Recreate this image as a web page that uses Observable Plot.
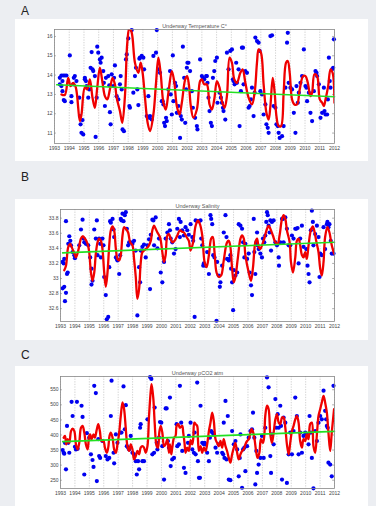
<!DOCTYPE html>
<html>
<head>
<meta charset="utf-8">
<script src="https://cdn.jsdelivr.net/npm/d3@7"></script>
<script src="https://cdn.jsdelivr.net/npm/@observablehq/plot@0.6"></script>
<style>
  html, body { margin: 0; padding: 0; }
  body { width: 376px; height: 506px; background: #eceef2; position: relative; overflow: hidden; font-family: "Liberation Sans", Arial, sans-serif; }
  .lab { position: absolute; left: 21px; font-size: 12px; color: #222; line-height: 1; }
  .panel { position: absolute; left: 15px; background: #fff; }
  .panel svg { display: block; }
</style>
</head>
<body>
<div class="lab" style="top:5px">A</div>
<div class="panel" id="pA" style="top:19px"></div>
<div class="lab" style="top:171px">B</div>
<div class="panel" id="pB" style="top:199px"></div>
<div class="lab" style="top:349px">C</div>
<div class="panel" id="pC" style="top:366px"></div>
<script>
const yearTicks = [1993,1994,1995,1996,1997,1998,1999,2000,2001,2002,2003,2004,2005,2006,2007,2008,2009,2010,2011,2012];

const titles = ["Underway Temperature C°", "Underway Salinity", "Underway pCO2 atm"];
const tempTicks = [11,12,13,14,15,16];
const salTicks = [32.6,32.8,33,33.2,33.4,33.6,33.8];
const pco2Ticks = [250,300,350,400,450,500,550];

// ---------- A: temperature ----------
const tempObs = [[1993.36,13.86],[1993.47,13.98],[1993.54,13.69],[1993.36,13.52],[1993.47,13.43],[1993.59,13.98],[1993.70,13.98],[1993.81,13.98],[1993.63,12.71],[1993.70,12.65],[1993.54,13.17],[1994.04,15.02],[1994.27,13.52],[1994.15,12.91],[1994.15,12.60],[1994.31,13.86],[1994.38,13.95],[1994.49,13.69],[1994.68,12.83],[1994.72,11.88],[1994.77,11.45],[1994.83,11.01],[1994.95,10.93],[1994.90,11.67],[1995.06,13.86],[1995.06,13.78],[1995.13,13.69],[1995.18,13.43],[1995.29,12.83],[1995.36,13.26],[1995.52,15.19],[1995.45,14.38],[1995.58,14.30],[1995.63,14.21],[1995.74,13.95],[1995.79,10.8],[1995.86,12.83],[1995.90,15.47],[1995.97,15.16],[1996.08,14.81],[1996.13,14.64],[1996.20,14.90],[1996.31,14.21],[1996.35,13.60],[1996.42,12.40],[1996.49,13.86],[1996.65,13.95],[1996.72,13.47],[1996.76,12.08],[1996.81,11.45],[1996.88,14.04],[1996.99,13.43],[1997.04,13.86],[1997.10,14.50],[1997.22,12.91],[1997.33,12.74],[1997.44,13.52],[1997.49,13.95],[1997.56,13.26],[1997.62,11.19],[1997.71,11.10],[1997.85,14.81],[1997.90,15.07],[1998.01,15.90],[1998.08,12.40],[1998.12,12.31],[1998.24,16.33],[1998.35,13.09],[1998.46,13.95],[1998.53,14.38],[1998.62,13.26],[1998.69,12.45],[1998.76,14.85],[1998.80,14.90],[1998.92,14.99],[1999.03,14.90],[1999.08,14.30],[1999.26,11.88],[1999.37,12.91],[1999.44,11.79],[1999.48,11.88],[1999.60,11.70],[1999.71,14.99],[1999.89,15.16],[1999.94,16.33],[2000.05,14.30],[2000.16,14.12],[2000.28,12.65],[2000.34,12.65],[2000.39,12.48],[2000.44,11.53],[2000.50,11.36],[2000.57,11.79],[2000.62,11.62],[2000.73,13.26],[2000.84,14.21],[2000.89,13.00],[2000.96,11.96],[2001.03,15.02],[2001.07,12.65],[2001.18,13.60],[2001.25,13.43],[2001.30,12.05],[2001.41,12.40],[2001.48,12.05],[2001.52,10.75],[2001.57,11.88],[2001.64,11.70],[2001.71,15.47],[2001.80,13.86],[2001.87,11.53],[2001.93,13.26],[2001.98,14.38],[2002.02,14.64],[2002.09,14.64],
[2002.20,14.21],[2002.32,13.17],[2002.39,12.31],[2002.54,11.79],[2002.66,11.36],[2002.70,11.19],[2002.88,14.81],[2003.00,13.95],[2003.07,13.86],[2003.16,13.78],[2003.29,13.95],[2003.34,13.95],[2003.38,13.60],[2003.45,12.83],[2003.52,12.14],[2003.61,11.53],[2003.68,11.36],[2003.75,13.86],[2003.84,14.21],[2003.91,14.73],[2004.02,14.90],[2004.06,12.57],[2004.20,13.09],[2004.29,12.83],[2004.36,12.57],[2004.43,12.31],[2004.47,12.14],[2004.59,11.70],[2004.70,15.16],[2004.81,14.30],[2004.93,15.25],[2005.04,15.33],[2005.11,13.78],[2005.15,13.69],[2005.22,13.52],[2005.33,14.64],[2005.38,13.60],[2005.49,14.30],[2005.56,11.36],[2005.65,13.17],[2005.72,15.42],[2005.79,15.42],[2005.83,13.52],[2005.95,14.21],[2006.06,14.12],[2006.17,12.31],[2006.24,12.40],[2006.33,12.74],[2006.40,13.35],[2006.51,11.88],[2006.58,13.09],[2006.63,15.94],[2006.74,15.76],[2006.85,15.68],[2006.92,15.25],[2006.97,13.17],[2007.08,13.00],[2007.19,11.96],[2007.31,12.48],[2007.38,11.45],[2007.47,11.27],[2007.53,11.01],[2007.65,16.02],[2007.76,16.06],[2007.87,12.40],[2007.99,12.31],[2008.06,11.45],[2008.15,11.36],[2008.21,11.01],[2008.28,10.75],[2008.44,10.84],[2008.55,11.36],[2008.67,13.35],[2008.78,15.68],[2008.83,16.19],[2008.89,13.60],[2009.01,13.35],[2009.12,13.26],[2009.24,12.05],[2009.35,11.01],[2009.42,13.43],[2009.51,12.57],[2009.58,13.09],[2009.69,13.60],[2009.80,13.95],[2009.92,15.33],[2010.03,13.43],[2010.10,13.35],[2010.14,12.65],[2010.26,13.09],[2010.37,12.05],[2010.48,11.62],[2010.60,13.17],[2010.71,14.21],[2010.78,14.12],[2010.82,13.95],[2010.94,13.52],[2011.05,11.79],[2011.16,12.05],[2011.28,13.35],[2011.32,12.14],[2011.39,11.96],[2011.50,11.96],[2011.55,12.74],[2011.62,14.90],[2011.68,13.69],[2011.73,13.35],[2011.84,14.30],[2011.91,14.38],[2011.96,15.85]];

const tempSmooth = [[1993.47,13.0],[1993.70,12.97],[1993.93,13.86],[1994.09,13.43],[1994.27,13.60],[1994.45,13.35],[1994.72,11.62],[1994.83,11.96],[1995.06,13.35],[1995.22,13.26],[1995.40,13.78],[1995.58,12.83],[1995.74,12.31],[1995.90,13.35],[1996.08,14.38],[1996.26,13.60],[1996.42,12.91],[1996.58,12.74],[1996.76,13.26],[1996.94,13.86],[1997.10,13.52],[1997.22,12.83],[1997.44,12.14],[1997.60,11.53],[1997.78,12.91],[1997.94,15.68],[1998.08,16.45],[1998.24,16.2],[1998.46,14.64],[1998.69,14.12],[1998.85,14.64],[1998.98,14.12],[1999.14,12.83],[1999.32,11.53],[1999.48,11.10],[1999.71,11.96],[1999.89,13.60],[2000.05,14.90],[2000.21,14.04],[2000.39,12.57],[2000.55,12.22],[2000.73,13.09],[2000.96,14.21],[2001.12,13.69],[2001.30,12.40],[2001.48,11.96],[2001.64,12.57],[2001.87,13.78],[2002.00,13.95],[2002.12,13.5],[2002.25,12.4],[2002.42,11.8],[2002.66,12.22],[2002.88,13.69],[2003.00,13.78],[2003.16,13.52],[2003.34,13.52],[2003.52,12.48],[2003.68,12.22],[2003.84,12.74],[2004.02,13.69],[2004.20,13.35],[2004.36,12.65],[2004.54,12.31],[2004.70,12.91],[2004.88,14.90],[2005.04,14.64],[2005.20,13.78],[2005.38,13.60],[2005.61,14.12],[2005.77,14.30],[2005.95,13.60],[2006.17,12.83],[2006.40,12.48],[2006.58,13.09],[2006.74,14.64],[2006.85,15.33],[2007.01,15.16],[2007.19,13.52],[2007.38,12.05],[2007.53,11.70],[2007.65,12.40],[2007.81,13.86],[2007.94,13.09],[2008.06,11.88],[2008.21,11.36],[2008.37,11.36],[2008.55,13.09],[2008.71,14.64],[2008.83,14.73],[2008.96,14.12],[2009.12,12.74],[2009.28,12.48],[2009.46,12.48],[2009.64,13.26],[2009.87,13.95],[2010.03,13.95],[2010.19,13.60],[2010.37,12.91],[2010.48,13.09],[2010.64,14.04],[2010.82,13.95],[2011.00,12.74],[2011.16,12.57],[2011.28,12.40],[2011.39,12.74],[2011.57,13.43],[2011.73,14.30],[2011.87,14.12],[2012.00,12.57]];

const tempTrend = [[1993.15,13.5],[2012,12.88]];

// ---------- B: salinity ----------
const salObs = [[1993.15,33.22],[1993.22,33.20],[1993.26,33.26],[1993.38,33.76],[1993.45,33.06],[1993.15,32.87],[1993.26,32.89],[1993.38,32.81],[1993.31,32.70],[1993.50,33.08],[1993.54,33.46],[1993.61,33.56],[1993.68,33.50],[1993.73,33.44],[1993.84,33.35],[1993.96,33.31],[1994.00,33.27],[1994.30,33.44],[1994.42,33.65],[1994.53,33.78],[1994.60,33.53],[1994.65,33.48],[1994.76,33.46],[1994.92,33.44],[1995.06,33.28],[1995.15,33.13],[1995.15,32.92],[1995.22,32.97],[1995.34,33.65],[1995.45,33.53],[1995.52,33.77],[1995.57,33.31],[1995.68,33.53],[1995.75,33.46],[1995.80,33.28],[1995.91,33.53],[1995.98,33.44],[1996.03,33.02],[1996.14,32.78],[1996.21,32.46],[1996.31,32.49],[1996.38,33.15],[1996.44,33.76],[1996.49,33.74],[1996.61,33.79],[1996.68,33.65],[1996.72,33.55],[1996.84,33.28],[1996.91,33.26],[1996.95,33.24],[1997.07,33.06],[1997.14,33.31],[1997.18,33.79],[1997.23,33.77],[1997.30,33.86],[1997.37,33.76],[1997.46,33.84],[1997.53,33.88],[1997.60,33.66],[1997.69,33.44],[1997.76,33.48],[1997.87,33.48],[1997.99,33.46],[1998.10,33.50],[1998.22,33.37],[1998.33,32.51],[1998.45,33.15],[1998.52,32.95],[1998.56,33.37],[1998.68,33.42],[1998.79,33.45],[1998.91,33.28],[1999.03,33.44],[1999.14,33.52],[1999.21,32.86],[1999.26,33.58],[1999.37,33.78],[1999.44,33.77],[1999.49,33.44],[1999.60,33.81],[1999.72,33.40],[1999.83,33.53],[1999.95,33.08],[2000.06,32.95],[2000.18,33.22],[2000.29,33.53],[2000.41,33.61],[2000.52,33.72],[2000.59,33.64],[2000.64,33.53],[2000.75,33.48],[2000.87,33.33],[2000.98,33.39],[2001.10,33.66],[2001.21,33.79],[2001.28,33.55],[2001.33,33.75],[2001.44,33.64],[2001.56,33.57],[2001.67,33.68],[2001.79,33.64],[2001.90,33.58],
[2002.02,33.72],[2002.14,33.55],[2002.20,33.50],[2002.30,32.49],[2002.37,33.77],[2002.48,33.76],[2002.60,33.76],[2002.71,33.77],[2002.76,33.53],[2002.83,33.44],[2002.90,33.17],[2002.94,33.20],[2003.06,33.17],[2003.17,33.35],[2003.29,33.06],[2003.40,33.84],[2003.45,33.79],[2003.52,33.72],[2003.59,33.31],[2003.68,33.28],[2003.82,32.44],[2003.86,33.22],[2003.98,33.04],[2004.05,32.89],[2004.09,32.95],[2004.21,33.17],[2004.32,33.61],[2004.44,33.84],[2004.51,33.55],[2004.55,33.26],[2004.67,33.24],[2004.74,33.26],[2004.78,33.31],[2004.83,33.13],[2004.90,32.95],[2004.97,32.58],[2005.02,33.11],[2005.13,33.04],[2005.25,33.08],[2005.36,33.72],[2005.48,33.70],[2005.59,33.66],[2005.66,33.48],[2005.75,33.28],[2005.82,33.46],[2005.94,33.26],[2006.05,33.33],[2006.12,33.08],[2006.21,32.91],[2006.28,32.78],[2006.40,33.79],[2006.44,33.35],[2006.51,33.06],[2006.58,33.48],[2006.63,33.61],[2006.67,33.44],[2006.74,33.39],[2006.86,33.33],[2006.97,33.28],[2007.04,33.53],[2007.13,33.48],[2007.20,33.57],[2007.27,33.75],[2007.32,33.88],[2007.37,33.84],[2007.43,33.70],[2007.50,33.61],[2007.55,33.77],[2007.60,33.37],[2007.66,33.75],[2007.78,33.77],[2007.90,33.48],[2008.01,33.44],[2008.13,33.28],[2008.15,33.17],[2008.24,33.48],[2008.36,33.79],[2008.43,33.79],[2008.47,33.48],[2008.59,33.81],[2008.70,33.66],[2008.82,33.44],[2008.93,33.44],[2009.05,33.57],[2009.16,33.53],[2009.28,33.66],[2009.35,33.66],[2009.44,33.67],[2009.51,33.20],[2009.62,33.53],[2009.74,33.70],[2009.85,33.42],[2009.97,33.31],[2010.04,33.39],[2010.13,33.17],[2010.20,33.06],[2010.27,32.95],[2010.36,33.64],[2010.43,33.90],[2010.50,33.75],[2010.54,33.44],[2010.66,33.59],[2010.78,33.70],[2010.89,33.55],[2010.96,33.02],[2011.01,33.33],[2011.12,33.31],[2011.24,33.68],[2011.35,33.39],[2011.47,33.72],[2011.51,33.75],[2011.58,33.68],[2011.65,33.72],[2011.74,33.50],[2011.81,33.33],[2011.93,33.33]];

const salSmooth = [[1993.26,33.11],[1993.38,33.17],[1993.54,33.42],[1993.68,33.46],[1993.77,33.42],[1993.96,33.33],[1994.07,33.28],[1994.23,33.37],[1994.42,33.53],[1994.53,33.56],[1994.69,33.53],[1994.88,33.46],[1994.99,33.35],[1995.11,33.08],[1995.22,32.97],[1995.34,33.08],[1995.45,33.33],[1995.57,33.48],[1995.68,33.53],[1995.80,33.50],[1995.91,33.39],[1996.03,33.08],[1996.14,32.89],[1996.26,33.08],[1996.38,33.44],[1996.49,33.64],[1996.61,33.69],[1996.72,33.64],[1996.84,33.39],[1996.95,33.26],[1997.07,33.24],[1997.18,33.31],[1997.30,33.57],[1997.41,33.68],[1997.53,33.66],[1997.69,33.61],[1997.83,33.48],[1997.99,33.44],[1998.10,33.26],[1998.22,33.02],[1998.33,32.73],[1998.45,32.86],[1998.56,33.20],[1998.68,33.35],[1998.91,33.39],[1999.07,33.42],[1999.26,33.50],[1999.37,33.64],[1999.49,33.70],[1999.60,33.66],[1999.72,33.61],[1999.90,33.55],[2000.06,33.35],[2000.18,33.22],[2000.29,33.31],[2000.41,33.57],[2000.52,33.59],[2000.64,33.53],[2000.75,33.48],[2000.91,33.50],[2001.10,33.57],[2001.28,33.64],[2001.44,33.62],[2001.56,33.61],[2001.74,33.55],[2001.90,33.50],[2002.02,33.37],[2002.20,33.48],[2002.37,33.70],[2002.53,33.77],[2002.67,33.72],[2002.83,33.57],[2002.99,33.22],[2003.13,33.15],[2003.29,33.31],[2003.45,33.53],[2003.56,33.55],[2003.68,33.35],[2003.82,33.08],[2003.98,33.02],[2004.14,33.04],[2004.32,33.24],[2004.55,33.48],[2004.67,33.50],[2004.78,33.42],[2004.90,33.13],[2005.02,32.95],[2005.13,33.02],[2005.29,33.26],[2005.48,33.53],[2005.59,33.57],[2005.71,33.53],[2005.82,33.31],[2006.05,33.08],[2006.21,32.97],[2006.35,33.15],[2006.51,33.48],[2006.63,33.53],[2006.74,33.42],[2006.86,33.39],[2006.97,33.44],[2007.13,33.53],[2007.32,33.66],[2007.43,33.70],[2007.55,33.66],[2007.73,33.57],[2007.90,33.48],[2008.06,33.46],[2008.19,33.57],[2008.36,33.79],[2008.47,33.84],[2008.59,33.79],[2008.70,33.64],[2008.89,33.48],[2008.98,33.22],[2009.12,33.08],[2009.28,33.28],[2009.39,33.50],[2009.51,33.53],[2009.62,33.44],[2009.74,33.31],[2009.85,33.28],[2009.97,33.35],[2010.08,33.26],[2010.20,33.44],[2010.36,33.64],[2010.50,33.69],[2010.59,33.64],[2010.73,33.50],[2010.89,33.35],[2011.01,33.13],[2011.12,33.04],[2011.24,33.22],[2011.35,33.55],[2011.51,33.68],[2011.65,33.61],[2011.81,33.44],[2011.97,33.33]];

const salTrend = [[1993.15,33.34],[2012,33.48]];

// ---------- C: pCO2 ----------
const pco2Obs = [[1993.15,350],[1993.22,341],[1993.26,338],[1993.31,374],[1993.38,286],[1993.45,430],[1993.54,374],[1993.61,341],[1993.77,510],[1993.84,463],[1994.00,361],[1994.07,352],[1994.14,510],[1994.19,354],[1994.46,497],[1994.53,460],[1994.65,269],[1994.83,406],[1994.99,391],[1995.11,336],[1995.22,317],[1995.29,294],[1995.34,563],[1995.45,539],[1995.52,247],[1995.62,386],[1995.68,330],[1995.75,324],[1995.91,380],[1996.14,330],[1996.26,319],[1996.38,324],[1996.49,463],[1996.54,580],[1996.68,341],[1996.72,306],[1996.84,402],[1996.95,374],[1997.14,408],[1997.23,408],[1997.37,561],[1997.46,419],[1997.53,499],[1997.60,363],[1997.69,358],[1997.76,352],[1997.87,397],[1997.99,341],[1998.10,336],[1998.22,313],[1998.29,269],[1998.38,313],[1998.45,286],[1998.52,424],[1998.56,436],[1998.68,313],[1998.79,313],[1999.03,452],[1999.21,592],[1999.30,586],[1999.37,336],[1999.49,341],[1999.53,491],[1999.67,374],[1999.72,352],[1999.83,391],[1999.90,443],[1999.99,441],[2000.06,363],[2000.18,252],[2000.29,488],[2000.36,488],[2000.45,380],[2000.52,358],[2000.59,524],[2000.64,297],[2000.75,319],[2000.87,324],[2001.05,436],[2001.10,363],[2001.21,369],[2001.28,563],[2001.37,441],[2001.44,347],[2001.56,291],[2001.67,274],[2001.74,352],[2001.84,374],[2001.90,397],[2002.02,441],
[2002.14,352],[2002.25,341],[2002.30,408],[2002.37,336],[2002.48,574],[2002.53,313],[2002.60,258],[2002.67,258],[2002.71,497],[2002.83,374],[2002.94,369],[2002.99,374],[2003.06,369],[2003.17,341],[2003.29,313],[2003.36,391],[2003.45,413],[2003.52,408],[2003.63,402],[2003.75,358],[2003.86,341],[2003.98,369],[2004.21,341],[2004.28,336],[2004.32,441],[2004.37,324],[2004.44,513],[2004.51,319],[2004.60,463],[2004.67,252],[2004.78,250],[2004.90,413],[2005.02,369],[2005.13,380],[2005.25,352],[2005.36,263],[2005.43,324],[2005.48,402],[2005.59,225],[2005.66,352],[2005.75,358],[2005.82,280],[2005.94,363],[2006.05,391],[2006.17,413],[2006.28,419],[2006.35,474],[2006.44,391],[2006.51,236],[2006.58,347],[2006.63,274],[2006.74,302],[2006.86,324],[2006.97,397],[2007.09,324],[2007.20,424],[2007.32,591],[2007.43,558],[2007.55,330],[2007.60,274],[2007.66,402],[2007.78,369],[2007.90,519],[2007.96,424],[2008.06,469],[2008.13,424],[2008.24,497],[2008.29,430],[2008.36,252],[2008.47,458],[2008.59,441],[2008.70,241],[2008.82,336],[2008.93,408],[2009.05,336],[2009.16,413],[2009.28,524],[2009.39,463],[2009.51,336],[2009.62,408],[2009.74,341],[2009.85,397],[2009.97,408],[2010.08,402],[2010.20,369],[2010.27,463],[2010.36,408],[2010.43,324],[2010.54,223],[2010.66,413],[2010.78,380],[2010.89,441],[2011.01,463],[2011.12,452],[2011.24,547],[2011.35,480],[2011.42,452],[2011.47,430],[2011.53,424],[2011.58,308],[2011.70,302],[2011.81,263],[2011.93,563]];

const pco2Smooth = [[1993.22,391],[1993.31,397],[1993.40,369],[1993.50,386],[1993.61,374],[1993.73,413],[1993.84,421],[1993.96,413],[1994.07,369],[1994.19,352],[1994.30,374],[1994.42,424],[1994.53,430],[1994.65,408],[1994.76,369],[1994.88,352],[1994.99,397],[1995.06,402],[1995.15,386],[1995.29,402],[1995.38,391],[1995.52,419],[1995.62,436],[1995.73,413],[1995.85,380],[1995.98,380],[1996.08,358],[1996.21,341],[1996.31,358],[1996.40,397],[1996.49,408],[1996.61,391],[1996.72,352],[1996.84,341],[1996.95,369],[1997.07,408],[1997.18,463],[1997.30,508],[1997.41,486],[1997.53,419],[1997.64,363],[1997.76,347],[1997.87,369],[1997.99,352],[1998.10,319],[1998.22,330],[1998.33,347],[1998.45,336],[1998.56,358],[1998.68,363],[1998.79,358],[1998.91,341],[1999.03,363],[1999.14,463],[1999.26,547],[1999.32,569],[1999.44,519],[1999.53,441],[1999.67,363],[1999.76,358],[1999.85,408],[1999.95,430],[2000.06,408],[2000.18,363],[2000.29,369],[2000.41,386],[2000.52,341],[2000.59,369],[2000.68,336],[2000.75,358],[2000.87,391],[2000.98,397],[2001.05,430],[2001.17,436],[2001.28,424],[2001.44,430],[2001.51,408],[2001.60,374],[2001.67,341],[2001.79,358],[2001.90,347],[2002.02,383],[2002.13,369],[2002.20,386],[2002.28,441],[2002.37,436],[2002.48,430],[2002.53,386],[2002.60,347],[2002.71,363],[2002.83,341],[2002.94,358],[2003.06,347],[2003.17,369],[2003.29,413],[2003.40,441],[2003.52,474],[2003.63,447],[2003.75,386],[2003.86,374],[2003.98,363],[2004.09,380],[2004.21,358],[2004.32,386],[2004.44,363],[2004.55,347],[2004.67,324],[2004.78,308],[2004.90,336],[2005.02,358],[2005.13,374],[2005.25,341],[2005.36,319],[2005.48,336],[2005.59,347],[2005.71,352],[2005.82,369],[2005.94,380],[2006.05,386],[2006.17,408],[2006.24,419],[2006.33,413],[2006.44,391],[2006.58,341],[2006.67,324],[2006.79,341],[2006.90,386],[2007.04,374],[2007.13,397],[2007.20,463],[2007.32,497],[2007.43,486],[2007.55,402],[2007.66,374],[2007.78,408],[2007.90,452],[2008.01,469],[2008.13,441],[2008.24,436],[2008.36,458],[2008.47,458],[2008.59,424],[2008.70,369],[2008.82,336],[2008.93,374],[2009.05,413],[2009.16,430],[2009.28,452],[2009.39,463],[2009.51,441],[2009.62,380],[2009.74,358],[2009.85,386],[2009.97,380],[2010.08,402],[2010.20,386],[2010.31,436],[2010.43,441],[2010.54,363],[2010.66,341],[2010.78,402],[2010.89,463],[2011.01,486],[2011.12,508],[2011.24,530],[2011.35,508],[2011.47,474],[2011.58,408],[2011.70,347],[2011.81,408],[2011.97,486]];

const pco2Trend = [[1993.15,378],[2012,412]];

function panel(o) {
  const fmt = d => String(+d.toFixed(1));
  return Plot.plot({
    width: 353,
    height: o.height,
    marginLeft: o.marginLeft,
    marginRight: 34,
    marginTop: 10,
    marginBottom: o.height - 10 - o.frameH,
    style: {background: "white", fontFamily: "'Liberation Sans', Arial, sans-serif", overflow: "visible", color: "#444"},
    x: {domain: [1993, 2012]},
    y: {domain: o.yDomain},
    marks: [
      Plot.ruleX(yearTicks, {stroke: "#b4b4b4", strokeWidth: 0.6, strokeDasharray: "1.3,1.3"}),
      Plot.ruleY(o.yTicks, {x1: 1993, x2: 1993.13, stroke: "#777", strokeWidth: 0.6}),
      Plot.ruleY(o.yTicks, {x1: 2011.87, x2: 2012, stroke: "#777", strokeWidth: 0.6}),
      Plot.dot(o.obs, {x: d => d[0], y: d => d[1], r: 2.1, fill: "#0000f0", stroke: "none"}),
      Plot.line(o.smooth, {x: d => d[0], y: d => d[1], stroke: "#f00000", strokeWidth: 2.3, curve: "catmull-rom", clip: true}),
      Plot.line(o.trend, {x: d => d[0], y: d => d[1], stroke: "#22e022", strokeWidth: 1.6}),
      Plot.frame({stroke: "#888", strokeWidth: 0.8}),
      Plot.axisX(yearTicks, {tickSize: 0, tickPadding: 2.5, fontSize: 5, tickFormat: d => String(d), label: null, fill: "#444"}),
      Plot.axisY(o.yTicks, {tickSize: 0, tickPadding: 2, fontSize: 5, tickFormat: fmt, label: null, fill: "#444"}),
      Plot.text([o.title], {text: d => d, frameAnchor: "top", dy: -5, fontSize: 5.5, fill: "#555"})
    ]
  });
}

document.getElementById("pA").appendChild(panel({
  obs: tempObs, smooth: tempSmooth, trend: tempTrend, yDomain: [10.46, 16.36], yTicks: tempTicks,
  title: titles[0], marginLeft: 39, height: 142, frameH: 114
}));
document.getElementById("pB").appendChild(panel({
  obs: salObs, smooth: salSmooth, trend: salTrend, yDomain: [32.43, 33.915], yTicks: salTicks,
  title: titles[1], marginLeft: 45, height: 141, frameH: 112
}));
document.getElementById("pC").appendChild(panel({
  obs: pco2Obs, smooth: pco2Smooth, trend: pco2Trend, yDomain: [222.5, 594], yTicks: pco2Ticks,
  title: titles[2], marginLeft: 45, height: 140, frameH: 112
}));
</script>
</body>
</html>
